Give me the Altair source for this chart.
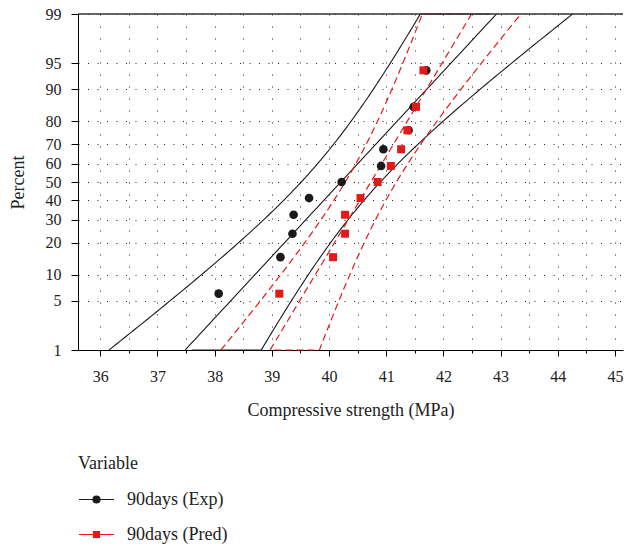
import altair as alt
import numpy as np
import pandas as pd
from statistics import NormalDist

ND = NormalDist()

# ---- data ----
series_names = ["90days (Exp)", "90days (Pred)"]
percent = [6.1, 14.9, 23.7, 32.5, 41.2, 50.0, 58.8, 67.5, 76.3, 85.1, 93.9]
exp_strength = [38.07, 39.15, 39.36, 39.38, 39.65, 40.22, 40.91, 40.95, 41.39, 41.48, 41.70]
pred_strength = [39.13, 40.07, 40.28, 40.28, 40.55, 40.85, 41.08, 41.26, 41.37, 41.52, 41.65]
y_tick_percent = [1, 5, 10, 20, 30, 40, 50, 60, 70, 80, 90, 95, 99]
x_tick_values = [36, 36.5, 37, 37.5, 38, 38.5, 39, 39.5, 40, 40.5, 41, 41.5,
                 42, 42.5, 43, 43.5, 44, 44.5, 45]
x_domain = [35.61, 45.14]
colors = ["#1a1a1a", "#e31a1c"]

FONT = "Liberation Serif"
y_tick_z = [round(ND.inv_cdf(p / 100), 6) for p in y_tick_percent]
Z_LO, Z_HI = y_tick_z[0], y_tick_z[-1]

# ---- points ----
def points_df(xs, name):
    return pd.DataFrame({"x": xs, "z": [ND.inv_cdf(p / 100) for p in percent],
                         "percent": percent, "series": name})

pts_exp_df = points_df(exp_strength, series_names[0])
pts_pred_df = points_df(pred_strength, series_names[1])

# ---- fitted normal line and 95% CI (derived from the data) ----
z_grid = sorted(set(np.round(np.linspace(-4.0, 4.0, 161), 4).tolist() + [Z_LO, Z_HI]))

def fit_df(xs, name):
    a = np.asarray(xs, dtype=float)
    n = len(a)
    mu = a.mean()
    s = a.std(ddof=1)
    rows = []
    for z in z_grid:
        half = 1.96 * s * np.sqrt(1.0 / n + z * z / (2.0 * n))
        zc = min(max(z, Z_LO), Z_HI)
        if Z_LO - 1e-9 <= z <= Z_HI + 1e-9:
            rows.append({"curve": "fit", "z": zc, "x": mu + z * s, "order": z})
        if z >= Z_LO - 1e-9:
            rows.append({"curve": "lower", "z": zc, "x": mu + z * s - half, "order": z})
        if z <= Z_HI + 1e-9:
            rows.append({"curve": "upper", "z": zc, "x": mu + z * s + half, "order": z})
    df = pd.DataFrame(rows)
    df["series"] = name
    return df

fit_exp = fit_df(exp_strength, series_names[0])
fit_pred = fit_df(pred_strength, series_names[1])

x_scale = alt.Scale(domain=x_domain, nice=False, zero=False)
y_scale = alt.Scale(domain=[Z_LO, Z_HI], nice=False, zero=False)

x_axis = alt.Axis(
    values=x_tick_values,
    labelExpr="datum.value % 1 === 0 ? format(datum.value, 'd') : ''",
    tickSize={"condition": {"test": "datum.value % 1 === 0", "value": 6}, "value": 3},
    tickColor="#000", domainColor="#000", domainWidth=1,
    labelFontSize=16, labelBaseline="middle", labelPadding=20,
    labelOverlap=False, labelFlush=False, labelBound=False,
    grid=True, gridDash=[1, 11], gridColor="#222", gridWidth=1,
    title="Compressive strength (MPa)", titleFontSize=18, titleFontWeight="normal",
    titleY=60, titleBaseline="middle", labelColor="#222", titleColor="#222",
)
y_axis = alt.Axis(
    values=y_tick_z,
    labelExpr="format(round(cumulativeNormal(datum.value) * 100), 'd')",
    tickSize=7, tickColor="#000", domainColor="#000", domainWidth=1,
    labelFontSize=16, labelPadding=10, labelColor="#222",
    labelOverlap=False, labelFlush=False, labelBound=False,
    grid=True, gridDash=[1, 8.5], gridColor="#222", gridWidth=1,
    title="Percent", titleFontSize=18, titleFontWeight="normal", titleColor="#222",
    titleX=-60, titleY=168, titleAngle=-90, titleBaseline="middle", titleAlign="center",
)

X = alt.X("x:Q", scale=x_scale, axis=x_axis)
Y = alt.Y("z:Q", scale=y_scale, axis=y_axis)

lines_exp = alt.Chart(fit_exp).mark_line(color=colors[0], strokeWidth=1.1).encode(
    x=X, y=Y, detail="curve:N", order="order:Q")
lines_pred = alt.Chart(fit_pred).mark_line(color=colors[1], strokeWidth=1.2,
                                           strokeDash=[7, 4]).encode(
    x=X, y=Y, detail="curve:N", order="order:Q")

pts_exp = alt.Chart(pts_exp_df).mark_point(shape="circle", filled=True, size=75,
                                           color=colors[0], opacity=1).encode(x=X, y=Y)
pts_pred = alt.Chart(pts_pred_df).mark_point(shape="square", filled=True, size=64,
                                             color=colors[1], opacity=1).encode(x=X, y=Y)

top_rule = alt.Chart(pd.DataFrame({"z": [Z_HI]})).mark_rule(
    color="#333", strokeWidth=1.5).encode(y=Y)

# legend: line + marker symbols
CIRCLE_PATH = "M-1,0H1M0.2,0A0.2,0.2,0,1,1,-0.2,0A0.2,0.2,0,1,1,0.2,0Z"
SQUARE_PATH = "M-1,0H1M-0.17,-0.17H0.17V0.17H-0.17Z"
legend_df = pd.DataFrame({"series": pd.Series([], dtype=str)})
legend_layer = alt.Chart(legend_df).mark_point(filled=True, opacity=1, size=1225,
                                               strokeWidth=1.2).encode(
    color=alt.Color("series:N", title="Variable",
                    scale=alt.Scale(domain=series_names, range=colors)),
    stroke=alt.Stroke("series:N", title="Variable",
                      scale=alt.Scale(domain=series_names, range=colors)),
    shape=alt.Shape("series:N", title="Variable",
                    scale=alt.Scale(domain=series_names, range=[CIRCLE_PATH, SQUARE_PATH])),
)

chart = alt.layer(lines_exp, lines_pred, pts_exp, pts_pred, top_rule, legend_layer).properties(
    width=545, height=336,
    padding={"left": 78, "top": 14, "right": 1, "bottom": 196},
    autosize=alt.AutoSizeParams(type="none"),
).configure(font=FONT).configure_view(stroke=None).configure_axis(
    labelOverlap=False
).configure_legend(
    orient="none", legendX=0, legendY=441, padding=0,
    titleFontSize=18, titleFontWeight="normal", titleColor="#222", titlePadding=8,
    labelFontSize=18, labelColor="#222", labelOffset=12,
    symbolSize=1225, symbolStrokeWidth=1.2, rowPadding=7, symbolOpacity=1,
)

chart.save("out.html", embed_options={"renderer": "svg", "actions": False})
